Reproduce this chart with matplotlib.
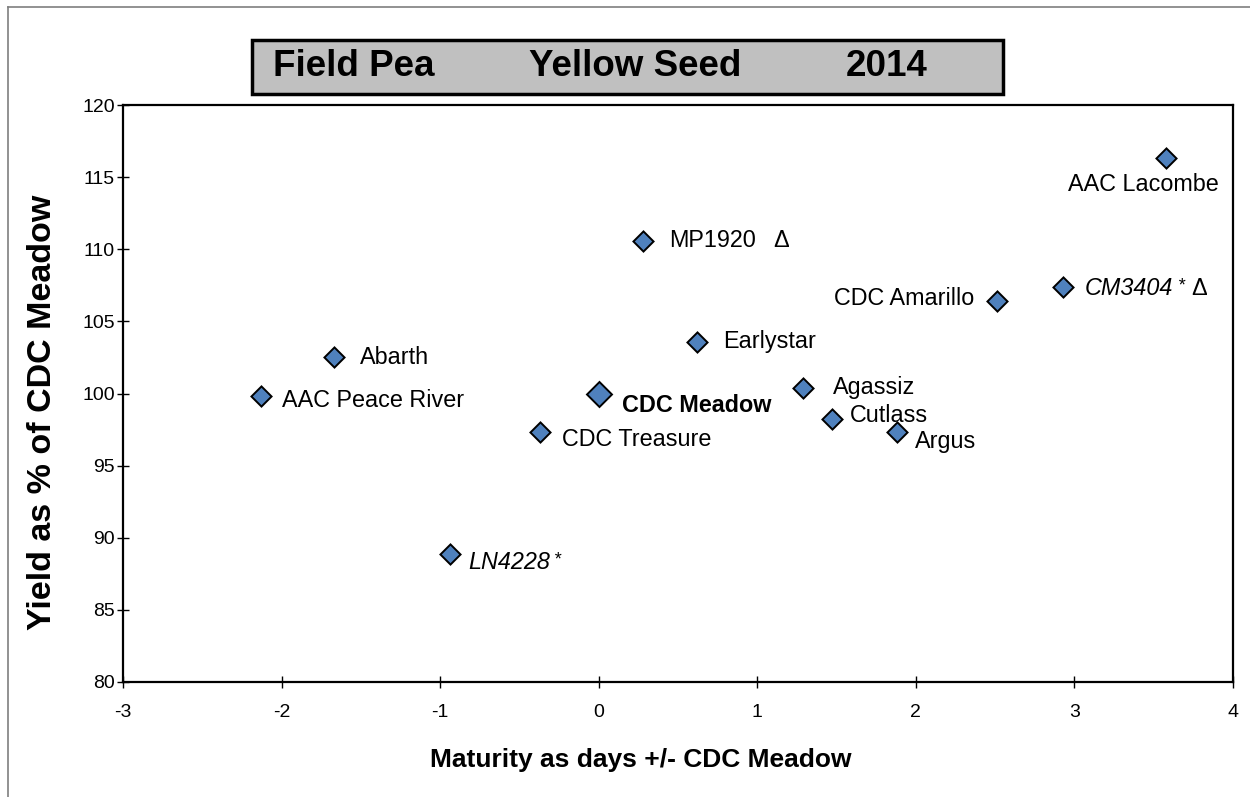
import matplotlib
matplotlib.use("Agg")
import matplotlib.pyplot as plt
from matplotlib.patches import Rectangle
from matplotlib.lines import Line2D

plt.rcParams['font.family'] = ['Liberation Sans', 'DejaVu Sans']

# ---- data ----
varieties = ["AAC Lacombe", "MP1920 \u0394", "CDC Amarillo", "CM3404 * \u0394", "Earlystar",
             "Abarth", "AAC Peace River", "CDC Meadow", "Agassiz", "Cutlass", "Argus",
             "CDC Treasure", "LN4228 *"]
maturity = [3.58, 0.28, 2.51, 2.93, 0.62, -1.67, -2.13, 0.00, 1.29, 1.47, 1.88, -0.37, -0.94]
yield_pct = [116.3, 110.6, 106.4, 107.4, 103.6, 102.5, 99.85, 100.0, 100.4, 98.2, 97.3, 97.35, 88.9]
x_ticks = [-3, -2, -1, 0, 1, 2, 3, 4]
y_ticks = [80, 85, 90, 95, 100, 105, 110, 115, 120]
title_parts = ["Field Pea", "Yellow Seed", "2014"]

# label offsets in pixels (dx, dy), alignment, style, weight
label_style = {
    "AAC Lacombe": (-98, -26, 'left', 'normal', 'normal'),
    "MP1920 \u0394": (26, 0, 'left', 'normal', 'normal'),
    "CDC Amarillo": (-22, 3, 'right', 'normal', 'normal'),
    "CM3404 * \u0394": (21, -2, 'left', 'italic', 'normal'),
    "Earlystar": (26, 0, 'left', 'normal', 'normal'),
    "Abarth": (26, 0, 'left', 'normal', 'normal'),
    "AAC Peace River": (21, -5, 'left', 'normal', 'normal'),
    "CDC Meadow": (23, -12, 'left', 'normal', 'bold'),
    "Agassiz": (30, 0, 'left', 'normal', 'normal'),
    "Cutlass": (18, 4, 'left', 'normal', 'normal'),
    "Argus": (18, -9, 'left', 'normal', 'normal'),
    "CDC Treasure": (22, -8, 'left', 'normal', 'normal'),
    "LN4228 *": (19, -9, 'left', 'italic', 'normal'),
}

W, H, DPI = 1250, 797, 100
PT = 72 / DPI
fig = plt.figure(figsize=(W / DPI, H / DPI), dpi=DPI)
fig.patch.set_facecolor('white')

ax = fig.add_axes([123 / W, 1 - 682 / H, (1233 - 123) / W, (682 - 105) / H])

blue = '#4F81BD'
FS = 16.8


def put(txt, x, y, dx, dy, **kw):
    ax.annotate(txt, (x, y), xytext=(dx * PT, dy * PT), textcoords='offset points',
                va='center', **kw)


for name, x, y in zip(varieties, maturity, yield_pct):
    ms = 18 if name == "CDC Meadow" else 14.5
    ax.plot([x], [y], linestyle='none', marker=(4, 0, 0), markersize=ms,
            markerfacecolor=blue, markeredgecolor='black', markeredgewidth=1.4, zorder=3)
    dx, dy, ha, style, weight = label_style[name]
    if name == "CM3404 * \u0394":
        put("CM3404", x, y, dx, dy, ha='left', fontsize=FS, fontstyle='italic')
        put("*", x, y, dx + 94, dy + 3, ha='left', fontsize=13, fontstyle='italic')
        put("\u0394", x, y, dx + 107, dy, ha='left', fontsize=FS)
        continue
    if name == "MP1920 \u0394":
        put("MP1920", x, y, dx, dy, ha='left', fontsize=FS)
        put("\u0394", x, y, dx + 104, dy, ha='left', fontsize=FS)
        continue
    if name == "LN4228 *":
        put("LN4228", x, y, dx, dy, ha='left', fontsize=FS, fontstyle='italic')
        put("*", x, y, dx + 85, dy + 3, ha='left', fontsize=13, fontstyle='italic')
        continue
    put(name, x, y, dx, dy, ha=ha, fontsize=FS, fontstyle=style, fontweight=weight)

ax.set_xlim(-3, 4)
ax.set_ylim(80, 120)
ax.set_xticks(x_ticks)
ax.set_xticklabels([str(t) for t in x_ticks])
ax.set_yticks(y_ticks)
ax.set_yticklabels([str(t) for t in y_ticks])
ax.tick_params(axis='both', direction='inout', length=8, width=1, labelsize=14, colors='black')
ax.tick_params(axis='x', pad=12)
ax.tick_params(axis='y', pad=2)
for s in ax.spines.values():
    s.set_linewidth(1.6)
    s.set_color('black')

# axis titles
fig.text(641 / W, 1 - 760 / H, "Maturity as days +/- CDC Meadow", ha='center', va='center',
         fontsize=19, fontweight='bold')
fig.text(43 / W, 1 - 412 / H, "Yield as % of CDC Meadow", ha='center', va='center',
         rotation=90, fontsize=24.5, fontweight='bold')

# title box
fig.patches.append(Rectangle((252 / W, 1 - 94 / H), (1003 - 252) / W, (94 - 40) / H,
                             transform=fig.transFigure, facecolor='#C0C0C0',
                             edgecolor='black', linewidth=2.5, zorder=5))
ty = 1 - 67 / H
for txt, xl in zip(title_parts, [273, 529, 846]):
    fig.text(xl / W, ty, txt, ha='left', va='center', fontsize=26.5, fontweight='bold', zorder=6)

# outer border (top and left)
fig.add_artist(Line2D([8 / W, 1.0], [1 - 7 / H, 1 - 7 / H], transform=fig.transFigure,
                      color='#7F7F7F', linewidth=1.2))
fig.add_artist(Line2D([8 / W, 8 / W], [0, 1 - 7 / H], transform=fig.transFigure,
                      color='#7F7F7F', linewidth=1.2))

fig.savefig("out.png", dpi=DPI)
